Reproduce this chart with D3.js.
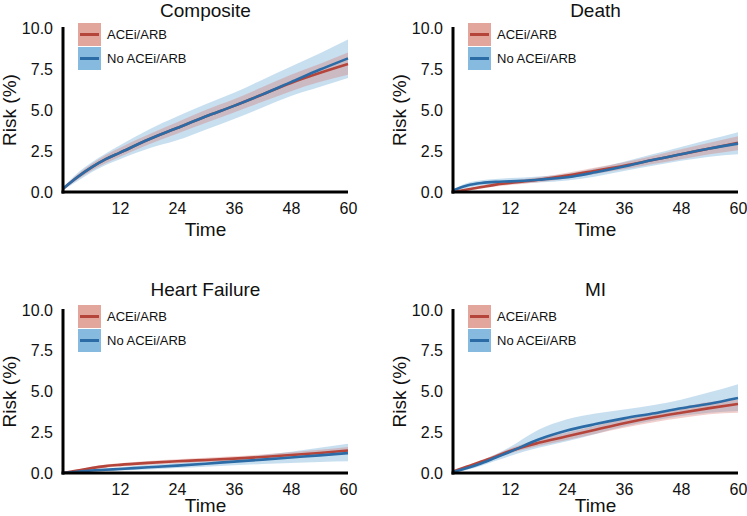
<!DOCTYPE html>
<html><head><meta charset="utf-8">
<script src="https://cdn.jsdelivr.net/npm/d3@7"></script>
<style>body{margin:0;background:#fff}text{font-family:"Liberation Sans",Arial,sans-serif}</style>
</head><body><svg id="c" width="747" height="516"></svg>
<script>
const time = [0,3,6,9,12,18,24,30,36,42,48,54,60];
const xTicks = [12,24,36,48,60];
const yTicks = [0,2.5,5,7.5,10];
const seriesNames = ["ACEi/ARB","No ACEi/ARB"];
const panelTitles = ["Composite","Death","Heart Failure","MI"];

const compRed    = [0.2,0.9,1.5,2.0,2.4,3.2,3.9,4.6,5.25,5.95,6.65,7.25,7.8];
const compRedLo  = [0.15,0.75,1.3,1.75,2.15,2.9,3.55,4.2,4.85,5.5,6.15,6.7,7.15];
const compRedHi  = [0.25,1.05,1.7,2.25,2.7,3.5,4.25,5.0,5.65,6.4,7.15,7.8,8.5];
const compBlue   = [0.2,0.9,1.5,2.0,2.4,3.2,3.9,4.6,5.25,5.95,6.7,7.45,8.15];
const compBlueLo = [0.1,0.65,1.2,1.65,2.0,2.65,3.15,3.8,4.45,5.15,5.85,6.4,6.95];
const compBlueHi = [0.3,1.15,1.8,2.35,2.85,3.8,4.6,5.35,6.05,6.85,7.65,8.45,9.3];

const deathRed    = [0.0,0.15,0.3,0.45,0.55,0.75,1.0,1.3,1.6,1.95,2.3,2.65,3.0];
const deathRedLo  = [0.0,0.08,0.2,0.33,0.43,0.6,0.82,1.1,1.38,1.7,2.0,2.3,2.55];
const deathRedHi  = [0.05,0.22,0.4,0.57,0.68,0.9,1.18,1.5,1.82,2.2,2.6,3.0,3.4];
const deathBlue   = [0.1,0.4,0.55,0.62,0.65,0.75,0.9,1.2,1.55,1.95,2.3,2.65,2.95];
const deathBlueLo = [0.05,0.25,0.4,0.47,0.5,0.58,0.7,0.95,1.28,1.6,1.9,2.15,2.3];
const deathBlueHi = [0.15,0.55,0.72,0.8,0.85,0.95,1.12,1.45,1.85,2.3,2.75,3.2,3.65];

const hfRed    = [0.0,0.15,0.3,0.42,0.5,0.62,0.72,0.8,0.88,0.98,1.1,1.23,1.38];
const hfRedLo  = [0.0,0.1,0.22,0.32,0.4,0.5,0.6,0.67,0.74,0.82,0.93,1.05,1.17];
const hfRedHi  = [0.02,0.2,0.38,0.52,0.6,0.74,0.84,0.93,1.02,1.14,1.27,1.42,1.6];
const hfBlue   = [0.0,0.08,0.15,0.2,0.25,0.35,0.45,0.57,0.7,0.82,0.95,1.08,1.22];
const hfBlueLo = [0.0,0.03,0.08,0.12,0.15,0.22,0.3,0.38,0.47,0.55,0.62,0.68,0.72];
const hfBlueHi = [0.02,0.13,0.22,0.3,0.36,0.5,0.62,0.76,0.92,1.1,1.3,1.55,1.8];

const miRed    = [0.1,0.4,0.7,1.02,1.35,1.85,2.25,2.65,3.05,3.4,3.7,3.98,4.23];
const miRedLo  = [0.05,0.32,0.6,0.9,1.2,1.65,2.02,2.4,2.78,3.1,3.37,3.6,3.7];
const miRedHi  = [0.15,0.48,0.8,1.14,1.5,2.05,2.48,2.9,3.32,3.7,4.03,4.35,4.5];
const miBlue   = [0.05,0.3,0.6,0.95,1.3,2.05,2.6,3.0,3.35,3.65,3.97,4.25,4.6];
const miBlueLo = [0.0,0.2,0.45,0.75,1.05,1.55,1.95,2.4,2.85,3.2,3.5,3.7,3.8];
const miBlueHi = [0.1,0.4,0.75,1.15,1.6,2.65,3.3,3.65,3.9,4.15,4.5,4.95,5.45];

const panelData = [
  {red:compRed, redLo:compRedLo, redHi:compRedHi, blue:compBlue, blueLo:compBlueLo, blueHi:compBlueHi},
  {red:deathRed, redLo:deathRedLo, redHi:deathRedHi, blue:deathBlue, blueLo:deathBlueLo, blueHi:deathBlueHi},
  {red:hfRed, redLo:hfRedLo, redHi:hfRedHi, blue:hfBlue, blueLo:hfBlueLo, blueHi:hfBlueHi},
  {red:miRed, redLo:miRedLo, redHi:miRedHi, blue:miBlue, blueLo:miBlueLo, blueHi:miBlueHi}
];

const layout = [
  {x0:63, x1:348, y0:192, y1:28, title:17, xlab:236},
  {x0:453, x1:738, y0:192, y1:28, title:17, xlab:236},
  {x0:63, x1:348, y0:473, y1:310, title:296, xlab:512},
  {x0:453, x1:738, y0:473, y1:310, title:296, xlab:512}
];

const redLine="#b5453b", blueLine="#2b6ba6";
const redBand="rgba(214,110,98,0.32)", blueBand="rgba(110,170,215,0.38)";
const redPatch="#e3a69d", bluePatch="#86badf";

const svg = d3.select("#c");
panelData.forEach((d,i)=>{
  const L = layout[i];
  const x = d3.scaleLinear().domain([0,60]).range([L.x0,L.x1]);
  const y = d3.scaleLinear().domain([0,10]).range([L.y0,L.y1]);
  const g = svg.append("g");
  const pts = (lo,hi)=>time.map((t,k)=>({t,lo:lo[k],hi:hi[k]}));
  const area = d3.area().x(p=>x(p.t)).y0(p=>y(p.lo)).y1(p=>y(p.hi)).curve(d3.curveMonotoneX);
  const line = d3.line().x(p=>x(p.t)).y(p=>y(p.v)).curve(d3.curveMonotoneX);
  g.append("path").attr("d",area(pts(d.blueLo,d.blueHi))).attr("fill",blueBand);
  g.append("path").attr("d",area(pts(d.redLo,d.redHi))).attr("fill",redBand);
  g.append("path").attr("d",line(time.map((t,k)=>({t,v:d.red[k]})))).attr("fill","none").attr("stroke",redLine).attr("stroke-width",2.6);
  g.append("path").attr("d",line(time.map((t,k)=>({t,v:d.blue[k]})))).attr("fill","none").attr("stroke",blueLine).attr("stroke-width",2.6);

  const xa = g.append("g").attr("transform",`translate(0,${L.y0})`)
    .call(d3.axisBottom(x).tickValues(xTicks).tickSize(0).tickPadding(11).tickFormat(d3.format("d")));
  const ya = g.append("g").attr("transform",`translate(${L.x0},0)`)
    .call(d3.axisLeft(y).tickValues(yTicks).tickSize(0).tickPadding(10).tickFormat(d3.format(".1f")));
  [xa,ya].forEach(a=>{
    a.select(".domain").attr("stroke","#000").attr("stroke-width",3);
    a.selectAll("text").attr("font-size",16).attr("fill","#111").attr("font-family","Liberation Sans, Arial, sans-serif");
  });
  xa.select(".domain").attr("d",`M${L.x0-1.5},0H${L.x1}`);
  ya.select(".domain").attr("d",`M0,${L.y0+1.5}V${L.y1-1}`);

  const cx = (L.x0+L.x1)/2;
  g.append("text").attr("x",cx).attr("y",L.title).attr("text-anchor","middle").attr("font-size",19).attr("fill","#111").text(panelTitles[i]);
  g.append("text").attr("x",cx).attr("y",L.xlab).attr("text-anchor","middle").attr("font-size",19).attr("fill","#111").text("Time");
  g.append("text").attr("transform",`translate(${L.x0-47},${(L.y0+L.y1)/2}) rotate(-90)`).attr("text-anchor","middle").attr("font-size",19).attr("fill","#111").text("Risk (%)");

  // legend
  const lx = L.x0+15, ly = L.y1-5;
  [[redPatch,redLine],[bluePatch,blueLine]].forEach((c,k)=>{
    const yy = ly + k*24;
    g.append("rect").attr("x",lx).attr("y",yy).attr("width",23).attr("height",23).attr("fill",c[0]);
    g.append("line").attr("x1",lx+2).attr("x2",lx+21).attr("y1",yy+11.5).attr("y2",yy+11.5).attr("stroke",c[1]).attr("stroke-width",3);
    g.append("text").attr("x",lx+29).attr("y",yy+11.5).attr("dy","0.35em").attr("font-size",13).attr("fill","#111").text(seriesNames[k]);
  });
});
</script></body></html>
